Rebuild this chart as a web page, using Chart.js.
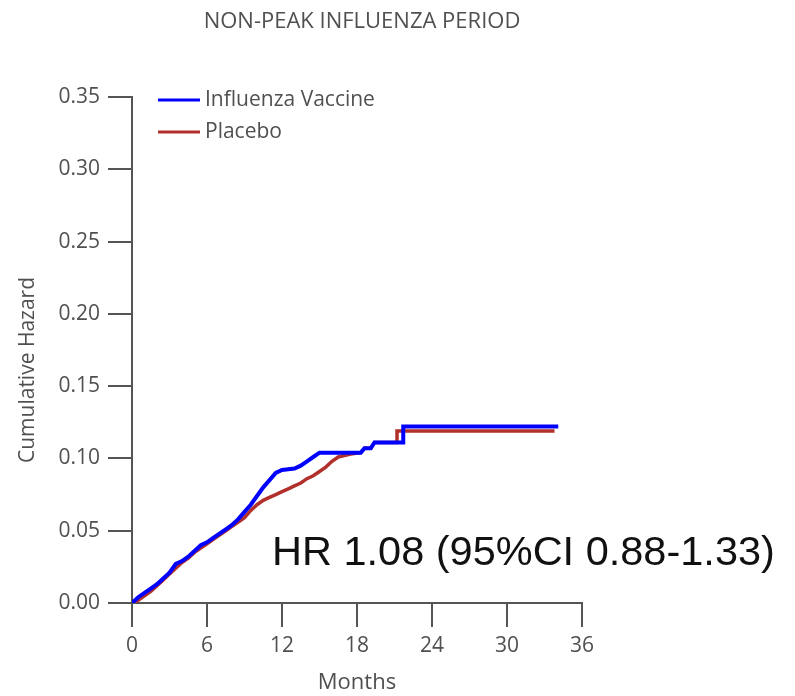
<!DOCTYPE html>
<html>
<head>
<meta charset="UTF-8">
<title>Non-peak influenza period</title>
<script src="https://cdn.jsdelivr.net/npm/chart.js"></script>
<style>
  html, body { margin: 0; padding: 0; background: #fff; }
</style>
</head>
<body>
<canvas id="chart" width="795" height="696"></canvas>
<script>
// texts
const chartTitle = 'NON-PEAK INFLUENZA PERIOD';
const xTitle = 'Months';
const yTitle = 'Cumulative Hazard';
const hrText = 'HR 1.08 (95%CI 0.88-1.33)';
const seriesNames = ['Influenza Vaccine', 'Placebo'];

// cumulative hazard
const vaccineMonths = [0, 0.5, 1, 1.5, 2, 2.5, 3, 3.5, 4, 4.5, 5, 5.5, 6, 6.5, 7, 7.5, 8, 8.5, 9, 9.5,
  10, 10.5, 11, 11.5, 12, 13, 13.5, 14, 14.5, 15, 18.3, 18.6, 19.1, 19.4, 21.7, 21.7, 34.1];
const vaccineHazard = [0, 0.004, 0.007, 0.010, 0.013, 0.017, 0.021, 0.027, 0.029, 0.032, 0.036, 0.040, 0.042, 0.045, 0.048, 0.051, 0.054, 0.058, 0.063, 0.068,
  0.074, 0.080, 0.085, 0.090, 0.092, 0.093, 0.095, 0.098, 0.101, 0.104, 0.104, 0.107, 0.107, 0.111, 0.111, 0.122, 0.122];

const placeboMonths = [0, 0.5, 1, 1.5, 2, 2.5, 3, 3.5, 4, 4.5, 5, 5.5, 6, 6.5, 7, 7.5, 8, 8.5, 9, 9.5,
  10, 10.5, 11, 11.5, 12, 12.5, 13, 13.5, 14, 14.5, 15, 15.5, 16, 16.5, 17, 17.5, 18.3, 18.6, 19.1, 19.4, 21.2, 21.2, 33.8];
const placeboHazard = [0, 0.002, 0.005, 0.008, 0.012, 0.016, 0.020, 0.024, 0.028, 0.031, 0.035, 0.038, 0.041, 0.044, 0.047, 0.050, 0.053, 0.056, 0.059, 0.064,
  0.068, 0.071, 0.073, 0.075, 0.077, 0.079, 0.081, 0.083, 0.086, 0.088, 0.091, 0.094, 0.098, 0.101, 0.102, 0.103, 0.104, 0.107, 0.107, 0.111, 0.111, 0.119, 0.119];

const toPoints = (xs, ys) => xs.map((x, i) => ({ x: x, y: ys[i] }));

const axisGrey = '#555555';
const textGrey = '#505050';
const font = '"Open Sans", "DejaVu Sans", sans-serif';

// title, legend, y title and HR note
const overlayText = {
  id: 'overlayText',
  afterDraw(chart) {
    const ctx = chart.ctx;
    ctx.save();
    ctx.fillStyle = textGrey;
    ctx.font = '22px ' + font;
    ctx.textAlign = 'center';
    ctx.textBaseline = 'alphabetic';
    ctx.fillText(chartTitle, 362, 28);

    // legend
    chart.data.datasets.forEach((ds, i) => {
      const y = 100 + i * 32;
      ctx.strokeStyle = ds.borderColor;
      ctx.lineWidth = 3;
      ctx.beginPath();
      ctx.moveTo(158, y);
      ctx.lineTo(200, y);
      ctx.stroke();
      ctx.font = '21px ' + font;
      ctx.textAlign = 'left';
      ctx.textBaseline = 'middle';
      ctx.fillText(ds.label, 205, y);
    });

    // y axis title
    ctx.save();
    ctx.translate(28, 370);
    ctx.rotate(-Math.PI / 2);
    ctx.textAlign = 'center';
    ctx.textBaseline = 'middle';
    ctx.font = '21px ' + font;
    ctx.fillText(yTitle, 0, 0);
    ctx.restore();

    ctx.fillStyle = '#111';
    ctx.font = '41.5px "Liberation Sans", Arial, sans-serif';
    ctx.textAlign = 'left';
    ctx.textBaseline = 'alphabetic';
    ctx.fillText(hrText, 272, 565);
    ctx.restore();
  }
};

new Chart(document.getElementById('chart'), {
  type: 'line',
  data: {
    datasets: [
      {
        label: seriesNames[0],
        data: toPoints(vaccineMonths, vaccineHazard),
        borderColor: '#0000ff',
        borderWidth: 4,
        pointRadius: 0
      },
      {
        label: seriesNames[1],
        data: toPoints(placeboMonths, placeboHazard),
        borderColor: '#b2302c',
        borderWidth: 3.5,
        pointRadius: 0
      }
    ]
  },
  options: {
    responsive: false,
    animation: false,
    devicePixelRatio: 1,
    layout: { padding: { top: 97, right: 213, left: 0, bottom: 0 } },
    plugins: {
      legend: { display: false },
      tooltip: { enabled: false }
    },
    scales: {
      x: {
        type: 'linear',
        min: 0,
        max: 36,
        afterFit: s => { s.height = 93; },
        ticks: { stepSize: 6, color: textGrey, padding: 6, font: { family: font, size: 21 } },
        grid: { drawOnChartArea: false, drawTicks: true, tickLength: 24, color: axisGrey, lineWidth: 2 },
        border: { color: axisGrey, width: 2 },
        title: { display: true, text: xTitle, color: textGrey, padding: { top: 0, bottom: 0 }, font: { family: font, size: 22 } }
      },
      y: {
        min: 0,
        max: 0.35,
        afterFit: s => { s.width = 132; },
        ticks: {
          stepSize: 0.05,
          color: textGrey,
          padding: 8,
          font: { family: font, size: 21 },
          callback: v => v.toFixed(2)
        },
        grid: { drawOnChartArea: false, drawTicks: true, tickLength: 24, color: axisGrey, lineWidth: 2 },
        border: { color: axisGrey, width: 2 }
      }
    }
  },
  plugins: [overlayText]
});
</script>
</body>
</html>
